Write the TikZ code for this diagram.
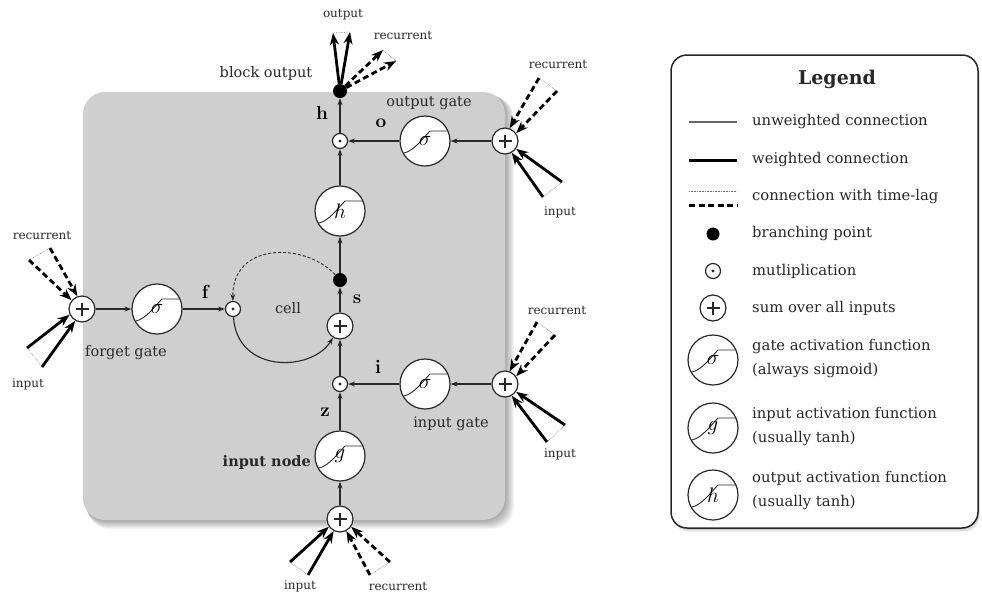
\RequirePackage{fix-cm}
\documentclass[tikz,border=0pt]{standalone}
\usepackage[no-math]{fontspec}
\setmainfont{DejaVu Serif}
\usetikzlibrary{arrows.meta}
\definecolor{boxgray}{RGB}{207,207,207}
\definecolor{ink}{RGB}{40,40,40}
\newcommand\lblfont{\fontsize{14.5}{16}\selectfont}
\newcommand\tinyfont{\fontsize{12}{14}\selectfont}
\newcommand\legfont{\fontsize{14.8}{24}\selectfont}
\newcommand\symfont{\fontsize{21}{21}\selectfont}
\newcommand\varfont{\fontsize{19}{19}\selectfont}
\begin{document}
\begin{tikzpicture}[x=1pt,y=-1pt,
  act/.style={circle,draw=ink,line width=1.2pt,fill=white,minimum size=50pt,inner sep=0pt,font=\symfont,
    path picture={\draw[ink,line width=0.9pt]
      ([shift={(-21pt,-12pt)}]path picture bounding box.center)
      .. controls +(10pt,2pt) and +(-6pt,-6pt) ..
      ([shift={(5pt,10pt)}]path picture bounding box.center)
      -- ([shift={(25pt,10pt)}]path picture bounding box.center);}},
  sumn/.style={circle,draw=ink,line width=1.2pt,fill=white,minimum size=26pt,inner sep=0pt,
    path picture={\draw[ink,line width=1.3pt]
      ([xshift=-6.5pt]path picture bounding box.center) -- ([xshift=6.5pt]path picture bounding box.center)
      ([yshift=-6.5pt]path picture bounding box.center) -- ([yshift=6.5pt]path picture bounding box.center);}},
  multn/.style={circle,draw=ink,line width=1.2pt,fill=white,minimum size=15pt,inner sep=0pt,
    path picture={\fill[ink] (path picture bounding box.center) circle (1.7pt);}},
  bpt/.style={circle,fill=black,minimum size=14pt,inner sep=0pt},
  conn/.style={draw=ink,line width=1.1pt,-{Stealth[length=7pt,width=5pt]}},
  wconn/.style={draw=black,line width=2.8pt,-{Stealth[length=12pt,width=9pt]}},
  lconn/.style={wconn,dash pattern=on 6pt off 3.5pt},
  lagline/.style={draw=black!55,line width=0.6pt,densely dotted},
  lbl/.style={font=\lblfont,text=ink,inner sep=0pt},
  small/.style={font=\tinyfont,text=ink,inner sep=0pt},
  var/.style={font=\varfont,inner sep=0pt},
  legtxt/.style={font=\legfont,anchor=west,align=left,inner sep=0pt,text=ink},
]
\useasboundingbox (0,0) rectangle (982,595);
% block background with shadow
\foreach \d in {1,...,9}{\fill[black,opacity=0.045,rounded corners=22pt] (83+\d*0.5,92+\d*0.5) rectangle (505+\d,520+\d);}
\fill[boxgray,rounded corners=22pt] (83,92) rectangle (505,520);

% nodes
\node[bpt] (bo) at (340,91) {};
\node[multn] (mo) at (340,141) {};
\node[act] (og) at (425,141) {$\sigma$};
\node[sumn] (os) at (505,141) {};
\node[act] (hc) at (340,211) {$h$};
\node[bpt] (sd) at (340,280) {};
\node[sumn] (cs) at (340,326) {};
\node[multn] (mi) at (340,384) {};
\node[act] (ig) at (425,384) {$\sigma$};
\node[sumn] (is) at (505,384) {};
\node[act] (gn) at (340,456) {$g$};
\node[sumn] (ns) at (340,519) {};
\node[sumn] (fs) at (82,309) {};
\node[act] (fg) at (157,309) {$\sigma$};
\node[multn] (mf) at (233,309) {};

% internal connections
\draw[conn] (mo) -- (bo);
\draw[conn] (hc) -- (mo);
\draw[conn] (sd) -- (hc);
\draw[conn] (cs) -- (sd);
\draw[conn] (mi) -- (cs);
\draw[conn] (gn) -- (mi);
\draw[conn] (ns) -- (gn);
\draw[conn] (og) -- (mo);
\draw[conn] (os) -- (og);
\draw[conn] (ig) -- (mi);
\draw[conn] (is) -- (ig);
\draw[conn] (fs) -- (fg);
\draw[conn] (fg) -- (mf);
% cell loop
\draw[conn] (mf) .. controls (237,374) and (312,372) .. (cs);
\draw[conn,line width=0.9pt,densely dashed] (sd) .. controls (305,242) and (232,242) .. (mf);

% block outputs
\coordinate (bo1) at (333,33); \coordinate (bo2) at (350,32);
\coordinate (bor1) at (383,50); \coordinate (bor2) at (396,61);
\draw[wconn] (bo) -- (bo1);
\draw[wconn] (bo) -- (bo2);
\draw[lagline] (bo1) -- (bo2);
\draw[lconn] (bo) -- (bor1);
\draw[lconn] (bo) -- (bor2);
\draw[lagline] (bor1) -- (bor2);

% output gate inputs
\coordinate (osr1) at (539,78); \coordinate (osr2) at (557,91);
\coordinate (osi1) at (562,182); \coordinate (osi2) at (543,197);
\draw[lconn] (osr1) -- (os.70);
\draw[lconn] (osr2) -- (os.35);
\draw[lagline] (osr1) -- (osr2);
\draw[wconn] (osi1) -- (os.-35);
\draw[wconn] (osi2) -- (os.-60);
\draw[lagline] (osi1) -- (osi2);
% input gate inputs
\coordinate (isr1) at (537,322); \coordinate (isr2) at (555,335);
\coordinate (isi1) at (565,425); \coordinate (isi2) at (547,442);
\draw[lconn] (isr1) -- (is.70);
\draw[lconn] (isr2) -- (is.35);
\draw[lagline] (isr1) -- (isr2);
\draw[wconn] (isi1) -- (is.-35);
\draw[wconn] (isi2) -- (is.-60);
\draw[lagline] (isi1) -- (isi2);
% forget gate inputs
\coordinate (fsr1) at (29,260); \coordinate (fsr2) at (50,248);
\coordinate (fsi1) at (27,348); \coordinate (fsi2) at (42,367);
\draw[lconn] (fsr1) -- (fs.140);
\draw[lconn] (fsr2) -- (fs.110);
\draw[lagline] (fsr1) -- (fsr2);
\draw[wconn] (fsi1) -- (fs.205);
\draw[wconn] (fsi2) -- (fs.240);
\draw[lagline] (fsi1) -- (fsi2);
% input node inputs
\coordinate (nsi1) at (290,562); \coordinate (nsi2) at (308,575);
\coordinate (nsr1) at (370,575); \coordinate (nsr2) at (390,562);
\draw[wconn] (nsi1) -- (ns.215);
\draw[wconn] (nsi2) -- (ns.242);
\draw[lagline] (nsi1) -- (nsi2);
\draw[lconn] (nsr1) -- (ns.298);
\draw[lconn] (nsr2) -- (ns.325);
\draw[lagline] (nsr1) -- (nsr2);

% labels
\node[lbl] (tbo) at (266,73) {block output};
\node[small] (tout) at (343,15) {output};
\node[small] (trec1) at (403,36) {recurrent};
\node[var] (th) at (322,113) {$\mathbf{h}$};
\node[var] (to) at (381,123) {$\mathbf{o}$};
\node[lbl] (tog) at (429,103) {output gate};
\node[var] (tf) at (206,292) {$\mathbf{f}$};
\node[var] (ts) at (357,299) {$\mathbf{s}$};
\node[var] (ti) at (378,367) {$\mathbf{i}$};
\node[var] (tz) at (325,412) {$\mathbf{z}$};
\node[lbl] (tcell) at (288,308) {cell};
\node[lbl] (tfg) at (126,353) {forget gate};
\node[lbl] (tig) at (451,424) {input gate};
\node[lbl,anchor=east,font=\lblfont\bfseries] (tin) at (311,462) {input node};
\node[small] (trec2) at (558,65) {recurrent};
\node[small] (tinp2) at (560,212) {input};
\node[small] (trec3) at (557,310) {recurrent};
\node[small] (tinp3) at (560,454) {input};
\node[small] (trec4) at (42,235) {recurrent};
\node[small] (tinp4) at (28,384) {input};
\node[small] (tinp5) at (300,586) {input};
\node[small] (trec5) at (398,586) {recurrent};

% legend
\foreach \d in {1,...,4}{\fill[black,opacity=0.06,rounded corners=16pt] (671+\d*0.5,55+\d) rectangle (978+\d*0.5,528+\d);}
\draw[ink,line width=1.5pt,fill=white,rounded corners=16pt] (671,55) rectangle (978,528);
\node[font=\fontsize{19}{20}\selectfont\bfseries,text=ink] (ltitle) at (837,79) {Legend};
\coordinate (lu1) at (689,122); \coordinate (lu2) at (737,122);
\draw[black!60,line width=1.2pt] (lu1) -- (lu2);
\node[legtxt] (lt1) at (752,122) {unweighted connection};
\coordinate (lw1) at (689,160); \coordinate (lw2) at (737,160);
\draw[black,line width=3pt] (lw1) -- (lw2);
\node[legtxt] (lt2) at (752,160) {weighted connection};
\coordinate (ld1) at (689,191); \coordinate (ld2) at (737,191);
\draw[lagline,line width=0.8pt] (ld1) -- (ld2);
\coordinate (le1) at (689,205); \coordinate (le2) at (737,205);
\draw[black,line width=3pt,dash pattern=on 6pt off 3.5pt] (le1) -- (le2);
\node[legtxt] (lt3) at (752,197) {connection with time-lag};
\node[bpt,minimum size=13pt] (lbp) at (713,234) {};
\node[legtxt] (lt4) at (752,234) {branching point};
\node[multn] (lmu) at (713,271) {};
\node[legtxt] (lt5) at (752,271) {mutliplication};
\node[sumn] (lsu) at (713,308) {};
\node[legtxt] (lt6) at (752,308) {sum over all inputs};
\node[act] (lsg) at (713,360) {$\sigma$};
\node[legtxt] (lt7) at (752,359) {gate activation function\\(always sigmoid)};
\node[act] (lg) at (713,428) {$g$};
\node[legtxt] (lt8) at (752,427) {input activation function\\(usually tanh)};
\node[act] (lh) at (713,495) {$h$};
\node[legtxt] (lt9) at (752,491) {output activation function\\(usually tanh)};
\end{tikzpicture}
\end{document}
